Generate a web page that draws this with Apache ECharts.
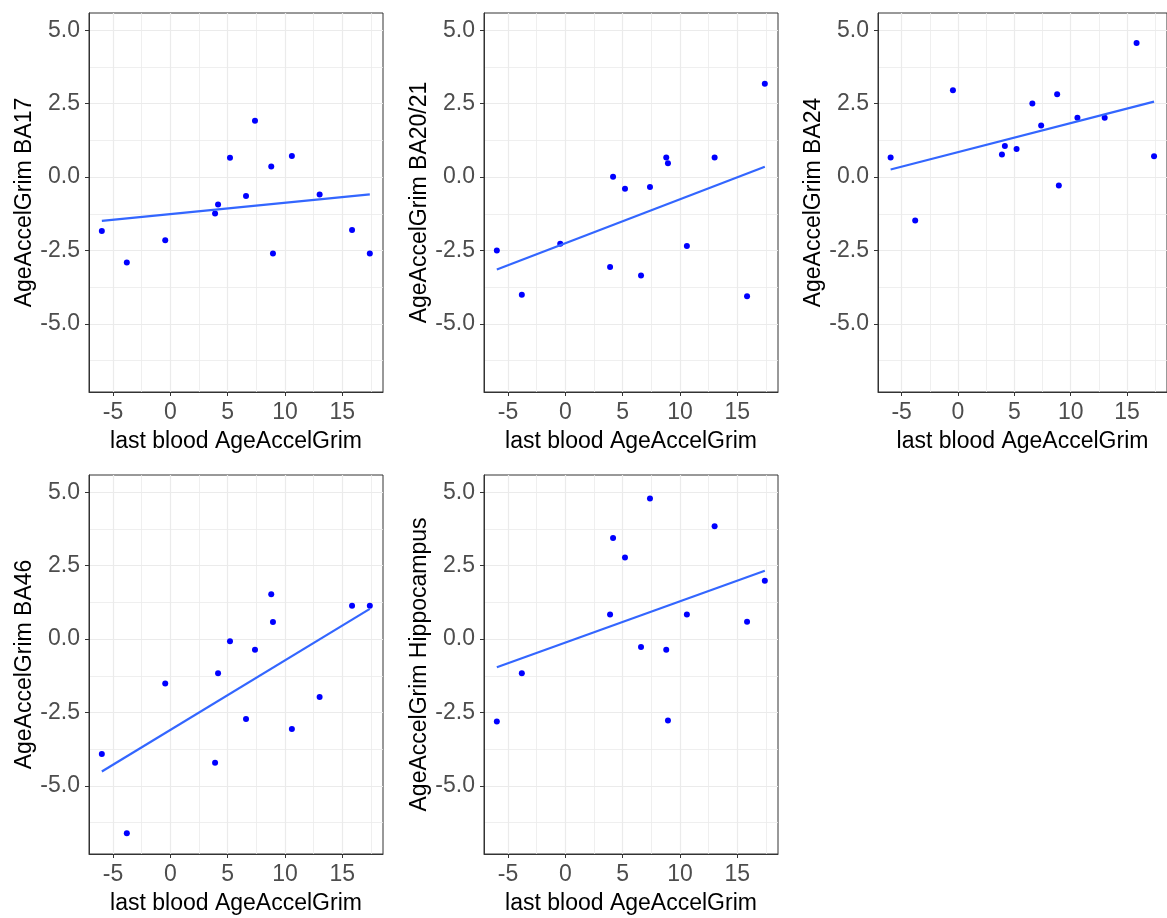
<!DOCTYPE html>
<html>
<head>
<meta charset="utf-8">
<title>AgeAccelGrim by brain region</title>
<script src="https://cdn.jsdelivr.net/npm/echarts@6/dist/echarts.min.js"></script>
<style>
  html, body { margin: 0; padding: 0; background: #fff; }
  #chart { width: 1167px; height: 918px; }
</style>
</head>
<body>
<div id="chart"></div>
<script>
// shared x: last blood AgeAccelGrim
const lastBlood = [-5.98, -3.8, -0.45, 3.9, 4.16, 5.2, 6.6, 7.38, 8.8, 8.95, 10.6, 13.02, 15.85, 17.4]

const ba17 = [-1.84, -2.91, -2.15, -1.24, -0.93, 0.66, -0.64, 1.92, 0.36, -2.60, 0.72, -0.59, -1.80, -2.60]
const ba2021 = [-2.50, -4.01, -2.27, -3.06, 0.01, -0.40, -3.35, -0.34, 0.67, 0.47, -2.35, 0.67, -4.06, 3.18]
const ba24 = [0.67, -1.48, 2.96, 0.77, 1.06, 0.96, 2.51, 1.76, 2.82, -0.29, 2.02, 2.02, 4.57, 0.71]
const ba46 = [-3.91, -6.61, -1.51, -4.21, -1.16, -0.07, -2.72, -0.36, 1.53, 0.58, -3.06, -1.97, 1.14, 1.14]
const hippocampus = [-2.81, -1.16, null, 0.84, 3.44, 2.78, -0.27, 4.79, -0.36, -2.77, 0.84, 3.84, 0.59, 1.99]

const regions = ['BA17', 'BA20/21', 'BA24', 'BA46', 'Hippocampus']
const regionValues = [ba17, ba2021, ba24, ba46, hippocampus]

// fitted line, at min and max of lastBlood
const fitStart = [-1.49, -3.15, 0.26, -4.51, -0.96]
const fitEnd = [-0.59, 0.35, 2.57, 1.03, 2.33]

const xTicks = [-5, 0, 5, 10, 15]
const xMinorTicks = [-2.5, 2.5, 7.5, 12.5, 17.5]
const yTicks = [-5, -2.5, 0, 2.5, 5]
const yMinorTicks = [-6.25, -3.75, -1.25, 1.25, 3.75]

const panelPos = [
    { left: 89, top: 13 },
    { left: 484, top: 13 },
    { left: 878, top: 13 },
    { left: 89, top: 475 },
    { left: 484, top: 475 }
]

const font = 'Liberation Sans, Arial, sans-serif'
const gridColor = '#ebebeb'

const grids = []
const xAxes = []
const yAxes = []
const series = []

regions.forEach((region, i) => {
    grids.push({
        left: panelPos[i].left,
        top: panelPos[i].top,
        width: 294,
        height: 379,
        show: true,
        borderColor: '#333333',
        borderWidth: 1,
        backgroundColor: '#fff'
    })

    // major x axis
    xAxes.push({
        type: 'value',
        gridIndex: i,
        min: -7.1,
        max: 18.55,
        name: 'last blood AgeAccelGrim',
        nameLocation: 'middle',
        nameGap: 38,
        nameTextStyle: { color: '#000', fontSize: 23, fontFamily: font },
        axisLine: { show: true, onZero: false, lineStyle: { color: '#333333', width: 1 } },
        axisTick: { show: true, length: 4, customValues: xTicks, lineStyle: { color: '#333333' } },
        axisLabel: { customValues: xTicks, color: '#4d4d4d', fontSize: 23, fontFamily: font, margin: 9 },
        splitLine: { show: true, lineStyle: { color: gridColor, width: 1.2 } }
    })
    // minor x grid
    xAxes.push({
        type: 'value',
        gridIndex: i,
        min: -7.1,
        max: 18.55,
        axisLine: { show: false, onZero: false },
        axisTick: { show: false, customValues: xMinorTicks },
        axisLabel: { show: false },
        splitLine: { show: true, lineStyle: { color: gridColor, width: 0.8 } }
    })

    yAxes.push({
        type: 'value',
        gridIndex: i,
        min: -7.32,
        max: 5.59,
        name: 'AgeAccelGrim ' + region,
        nameLocation: 'middle',
        nameGap: 53,
        nameRotate: 90,
        nameTextStyle: { color: '#000', fontSize: 23, fontFamily: font },
        axisLine: { show: true, onZero: false, lineStyle: { color: '#333333', width: 1 } },
        axisTick: { show: true, length: 4, customValues: yTicks, lineStyle: { color: '#333333' } },
        axisLabel: {
            customValues: yTicks,
            color: '#4d4d4d',
            fontSize: 23,
            fontFamily: font,
            margin: 9,
            formatter: v => v.toFixed(1)
        },
        splitLine: { show: true, lineStyle: { color: gridColor, width: 1.2 } }
    })
    yAxes.push({
        type: 'value',
        gridIndex: i,
        min: -7.32,
        max: 5.59,
        axisLine: { show: false, onZero: false },
        axisTick: { show: false, customValues: yMinorTicks },
        axisLabel: { show: false },
        splitLine: { show: true, lineStyle: { color: gridColor, width: 0.8 } }
    })

    const pts = []
    lastBlood.forEach((x, k) => {
        if (regionValues[i][k] !== null) pts.push([x, regionValues[i][k]])
    })

    series.push({
        type: 'scatter',
        xAxisIndex: i * 2,
        yAxisIndex: i * 2,
        data: pts,
        symbol: 'circle',
        symbolSize: 6,
        itemStyle: { color: '#0000ff', opacity: 1 },
        silent: true,
        z: 2
    })
    series.push({
        type: 'line',
        xAxisIndex: i * 2,
        yAxisIndex: i * 2,
        data: [
            [Math.min(...lastBlood), fitStart[i]],
            [Math.max(...lastBlood), fitEnd[i]]
        ],
        showSymbol: false,
        lineStyle: { color: '#3366ff', width: 2.2 },
        silent: true,
        z: 3
    })
})

const myChart = echarts.init(document.getElementById('chart'))
myChart.setOption({
    backgroundColor: '#fff',
    animation: false,
    grid: grids,
    xAxis: xAxes,
    yAxis: yAxes,
    series: series
})
</script>
</body>
</html>
